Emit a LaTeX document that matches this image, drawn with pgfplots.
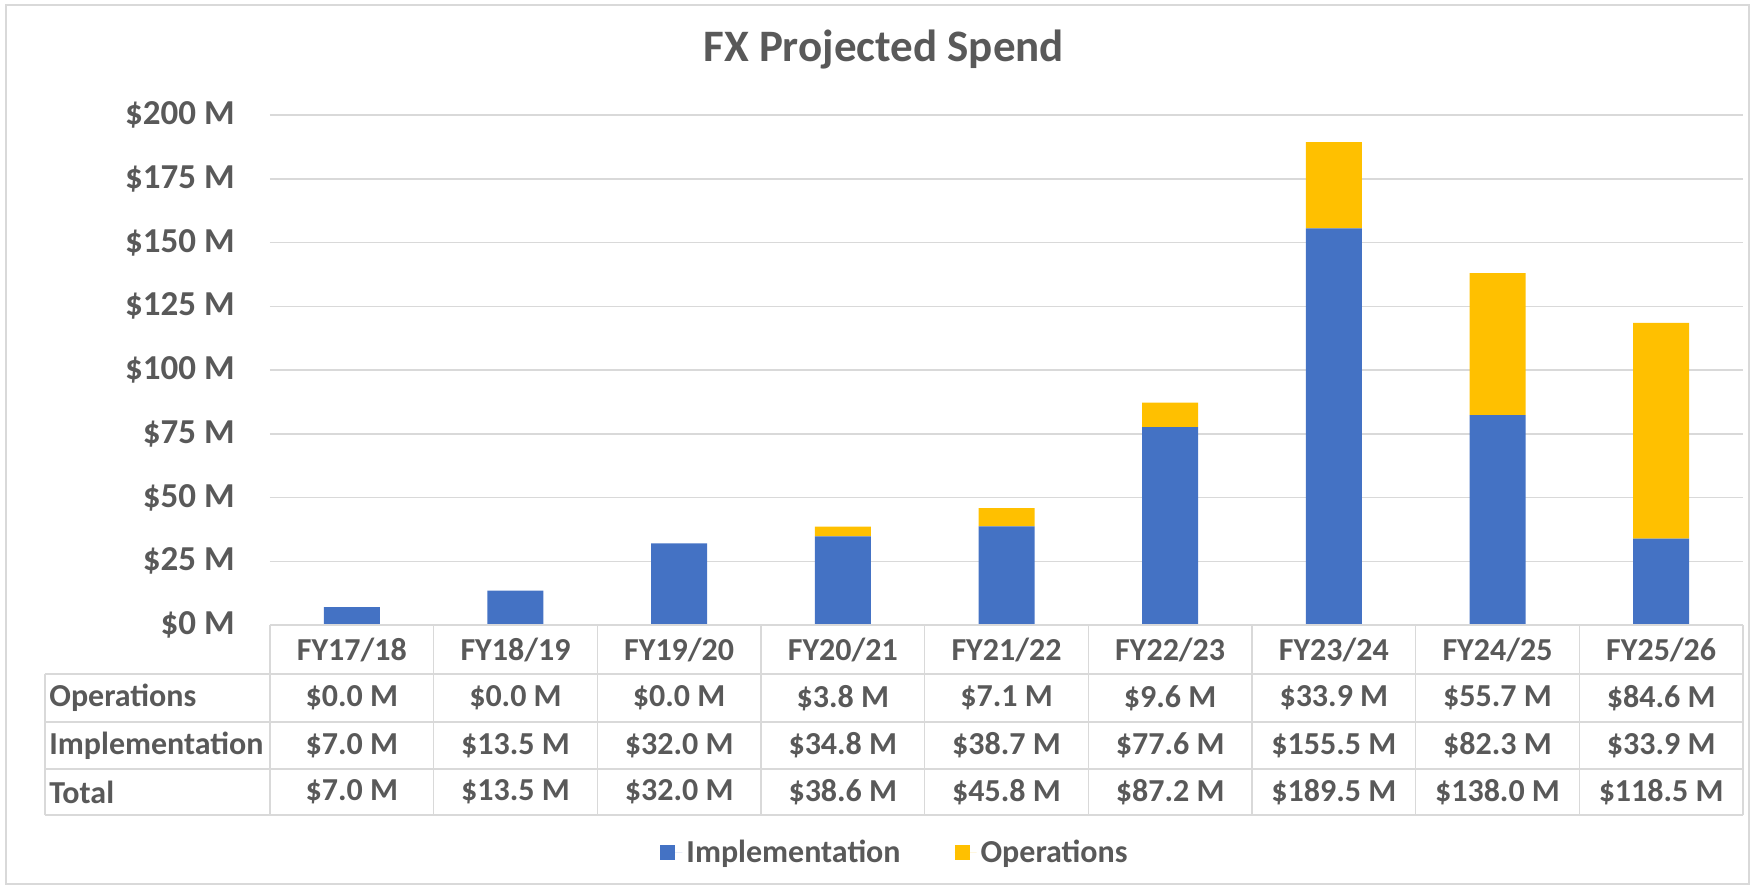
\documentclass[border=0pt]{standalone}
\usepackage{fontspec}
\setmainfont{Carlito}
\usepackage{pgfplots}
\pgfplotsset{compat=1.18}
\definecolor{impl}{HTML}{4472C4}
\definecolor{ops}{HTML}{FFC000}
\definecolor{txt}{HTML}{595959}
\definecolor{grd}{HTML}{D9D9D9}
\begin{document}
\begin{tikzpicture}[font=\bfseries]
\useasboundingbox (-135pt,-132pt) rectangle (742.5pt,312.5pt);
\draw[grd, line width=0.75pt] (-132pt,-129.5pt) rectangle (739.5pt,310pt);
\begin{axis}[
  at={(0pt,0pt)}, anchor=south west,
  width=736.5pt, height=255pt, scale only axis,
  ybar stacked, bar width=28pt,
  xmin=-0.5, xmax=8.5, ymin=0, ymax=200,
  xtick={0,...,8},
  xticklabels={FY17/18,FY18/19,FY19/20,FY20/21,FY21/22,FY22/23,FY23/24,FY24/25,FY25/26},
  xticklabel style={anchor=center, inner sep=0pt, yshift=-12.25pt, font=\fontsize{16}{19}\selectfont\bfseries, text=txt},
  ytick={0,25,...,200},
  /pgf/number format/assume math mode=true,
  yticklabel={\$\pgfmathprintnumber{\tick} M},
  yticklabel style={anchor=east, inner sep=0pt, xshift=-17.5pt, font=\fontsize{17.5}{21}\selectfont\bfseries, text=txt},
  axis line style={draw=none},
  major tick length=0pt,
  ymajorgrids, grid style={grd, line width=0.75pt},
  clip=false,
  legend style={at={(0.425,-0.447)}, anchor=center, draw=none, fill=none,
    legend columns=2, font=\fontsize{16}{19}\selectfont\bfseries, text=txt,
    /tikz/every even column/.append style={column sep=25pt}},
  legend image code/.code={\fill[#1] (0pt,-3.75pt) rectangle (7.5pt,3.75pt); \path (0pt,0pt) -- (11pt,0pt);},
]
\addplot[fill=impl, draw=none] coordinates {(0,7.0) (1,13.5) (2,32.0) (3,34.8) (4,38.7) (5,77.6) (6,155.5) (7,82.3) (8,33.9)};
\addplot[fill=ops, draw=none] coordinates {(0,0.0) (1,0.0) (2,0.0) (3,3.8) (4,7.1) (5,9.6) (6,33.9) (7,55.7) (8,84.6)};
\legend{Implementation, Operations}
\end{axis}
% title
\node[font=\fontsize{22.5}{27}\selectfont\bfseries, text=txt] at (307pt,287.5pt) {FX Projected Spend};
% data table grid
\begin{scope}[grd, line width=0.75pt]
\draw (0pt,0pt) -- (736.5pt,0pt);
\draw (-112.5pt,-24.5pt) -- (736.5pt,-24.5pt);
\draw (-112.5pt,-48.5pt) -- (736.5pt,-48.5pt);
\draw (-112.5pt,-72pt) -- (736.5pt,-72pt);
\draw (-112.5pt,-95pt) -- (736.5pt,-95pt);
\draw (-112.5pt,-24.5pt) -- (-112.5pt,-95pt);
\foreach \k in {0,...,9} \draw ({\k*81.8333pt},0pt) -- ({\k*81.8333pt},-95pt);
\end{scope}
\begin{scope}[font=\fontsize{16}{19}\selectfont\bfseries, text=txt]
\node[anchor=west, inner sep=0pt] at (-110.5pt,-36.5pt) {Operations};
\node[anchor=west, inner sep=0pt] at (-110.5pt,-60.25pt) {Implementation};
\node[anchor=west, inner sep=0pt] at (-110.5pt,-83.5pt) {Total};
\foreach \v [count=\i from 0] in {0.0,0.0,0.0,3.8,7.1,9.6,33.9,55.7,84.6}
  \node at ({(\i+0.5)*81.8333pt},-36.5pt) {\$\v{} M};
\foreach \v [count=\i from 0] in {7.0,13.5,32.0,34.8,38.7,77.6,155.5,82.3,33.9}
  \node at ({(\i+0.5)*81.8333pt},-60.25pt) {\$\v{} M};
\foreach \v [count=\i from 0] in {7.0,13.5,32.0,38.6,45.8,87.2,189.5,138.0,118.5}
  \node at ({(\i+0.5)*81.8333pt},-83.5pt) {\$\v{} M};
\end{scope}
\end{tikzpicture}
\end{document}
